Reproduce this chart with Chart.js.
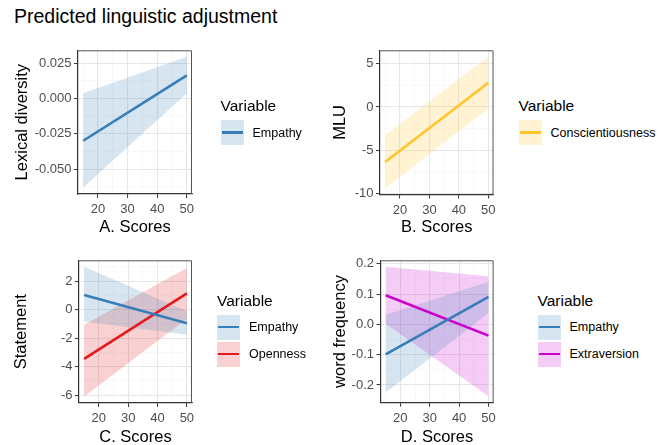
<!DOCTYPE html>
<html>
<head>
<meta charset="utf-8">
<script src="https://cdn.jsdelivr.net/npm/chart.js@4.4.0/dist/chart.umd.min.js"></script>
<style>
  body { margin: 0; width: 670px; height: 445px; overflow: hidden; background: #fff; position: relative;
         font-family: "Liberation Sans", Arial, sans-serif; color: #000; }
  canvas { position: absolute; }
  .title { position: absolute; left: 14px; top: 5px; font-size: 19.5px; line-height: 22px; }
  .legend { position: absolute; }
  .legend .lt { font-size: 15.5px; line-height: 18px; margin-bottom: 5px; }
  .legend .row { display: flex; align-items: center; height: 25px; margin-bottom: 2px; }
  .legend .key { position: relative; width: 23px; height: 25px; }
  .legend .key i { position: absolute; left: 1px; right: 1px; top: 11.25px; height: 2.5px; }
  .legend .lab { font-size: 12.5px; margin-left: 9px; }
</style>
</head>
<body>
<div class="title">Predicted linguistic adjustment</div>
<canvas id="pA" width="200" height="205" style="left:0;top:40px"></canvas>
<canvas id="pB" width="200" height="205" style="left:300px;top:40px"></canvas>
<canvas id="pC" width="200" height="200" style="left:0;top:250px"></canvas>
<canvas id="pD" width="200" height="200" style="left:300px;top:250px"></canvas>
<div class="legend" id="lA" style="left:220.5px;top:97px"></div>
<div class="legend" id="lB" style="left:518.5px;top:97px"></div>
<div class="legend" id="lC" style="left:217px;top:291.5px"></div>
<div class="legend" id="lD" style="left:537.5px;top:291.5px"></div>
<script>
// x values of the fitted lines (scores)
const scores = [15, 50];
const xMajor = [20, 30, 40, 50];
const xMinor = [15, 25, 35, 45];

// A. Lexical diversity
const lexEmpathy = [-0.0299, 0.0165];
const lexEmpathyLo = [-0.063, 0.0037];
const lexEmpathyHi = [0.0037, 0.0296];
const lexMajor = [-0.05, -0.025, 0, 0.025];
const lexMinor = [-0.0625, -0.0375, -0.0125, 0.0125];

// B. MLU
const mluCons = [-6.37, 2.81];
const mluConsLo = [-9.36, -0.19];
const mluConsHi = [-3.26, 5.8];
const mluMajor = [-10, -5, 0, 5];
const mluMinor = [-7.5, -2.5, 2.5];

// C. Statement
const stmtEmpathy = [1.02, -0.95];
const stmtEmpathyLo = [-0.84, -1.77];
const stmtEmpathyHi = [3.0, -0.11];
const stmtOpen = [-3.45, 1.14];
const stmtOpenLo = [-6.09, -0.64];
const stmtOpenHi = [-1.06, 2.91];
const stmtMajor = [-6, -4, -2, 0, 2];
const stmtMinor = [-5, -3, -1, 1, 3];

// D. word frequency
const wfEmpathy = [-0.099, 0.091];
const wfEmpathyLo = [-0.225, 0.037];
const wfEmpathyHi = [0.032, 0.141];
const wfExtra = [0.096, -0.037];
const wfExtraLo = [0.002, -0.237];
const wfExtraHi = [0.19, 0.159];
const wfMajor = [-0.2, -0.1, 0, 0.1, 0.2];
const wfMinor = [-0.25, -0.15, -0.05, 0.05, 0.15];

const colEmpathy = "#377EB8", colOpen = "#E41A1C", colCons = "#FFC52A", colExtra = "#CC00CC";

Chart.defaults.font.family = '"Liberation Sans", Arial, sans-serif';

function rgba(hex, a) {
  const n = parseInt(hex.slice(1), 16);
  return "rgba(" + (n >> 16) + "," + ((n >> 8) & 255) + "," + (n & 255) + "," + a + ")";
}
const pts = arr => scores.map((x, i) => ({ x: x, y: arr[i] }));
const isIn = (list, v) => list.some(m => Math.abs(m - v) < 1e-9);

// top and right panel border
const frame = {
  id: "frame",
  afterDraw(chart) {
    const a = chart.chartArea, c = chart.ctx;
    c.save();
    c.strokeStyle = "#555";
    c.lineWidth = 1;
    c.beginPath();
    c.moveTo(a.left, a.top + 0.5);
    c.lineTo(a.right - 0.5, a.top + 0.5);
    c.lineTo(a.right - 0.5, a.bottom);
    c.stroke();
    c.restore();
  }
};

function axis(major, minor, fmt, title, titlePad, fitFn) {
  const all = major.concat(minor).sort((a, b) => a - b);
  return {
    type: "linear",
    afterBuildTicks: s => { s.ticks = all.map(v => ({ value: v })); },
    afterFit: fitFn,
    grid: {
      color: c => isIn(major, c.tick.value) ? "#e6e6e6" : "#f3f3f3",
      lineWidth: c => isIn(major, c.tick.value) ? 1.1 : 0.6,
      tickColor: c => isIn(major, c.tick.value) ? "#333" : "rgba(0,0,0,0)",
      tickLength: 4,
      tickWidth: 1
    },
    border: { color: "#333", width: 1.2 },
    ticks: {
      autoSkip: false, maxRotation: 0, color: "#4d4d4d", font: { size: 13 },
      callback: v => isIn(major, v) ? fmt(v) : ""
    },
    title: { display: true, text: title, color: "#000", font: { size: 16.5 }, padding: titlePad }
  };
}

function panel(id, series, yMajor, yMinor, fmt, yTitle, xTitle, geo) {
  const ds = [];
  series.forEach(s => {
    ds.push({ data: pts(s.fit), borderColor: s.color, borderWidth: 2.6, pointRadius: 0, fill: false });
  });
  series.forEach(s => {
    const hiIdx = ds.length;
    ds.push({ data: pts(s.hi), borderWidth: 0, pointRadius: 0, fill: false });
    ds.push({ data: pts(s.lo), borderWidth: 0, pointRadius: 0, backgroundColor: rgba(s.color, 0.2), fill: hiIdx });
  });
  const bandVals = series.flatMap(s => s.lo.concat(s.hi));
  const lo = Math.min(...bandVals), hi = Math.max(...bandVals), pad = (hi - lo) * 0.05;
  const xs = axis(xMajor, xMinor, v => String(v), xTitle, { bottom: geo.xTitlePad }, s => { s.height = geo.xH; });
  xs.min = 13.25; xs.max = 51.75;
  xs.ticks.padding = 4;
  const ys = axis(yMajor, yMinor, fmt, yTitle, { top: geo.yTitlePad }, s => { s.width = geo.yW; });
  ys.min = lo - pad; ys.max = hi + pad;
  ys.ticks.padding = 2.5;
  new Chart(document.getElementById(id), {
    type: "line",
    data: { datasets: ds },
    options: {
      responsive: false, animation: false, devicePixelRatio: 1,
      layout: { padding: { top: geo.top, right: geo.right, left: 0, bottom: 0 } },
      plugins: { legend: { display: false }, tooltip: { enabled: false } },
      scales: { x: xs, y: ys }
    },
    plugins: [frame]
  });
}

function legend(id, series) {
  const el = document.getElementById(id);
  let html = '<div class="lt">Variable</div>';
  series.forEach(s => {
    html += '<div class="row"><div class="key" style="background:' + rgba(s.color, 0.2) + '"><i style="background:' +
      s.color + '"></i></div><div class="lab">' + s.name + '</div></div>';
  });
  el.innerHTML = html;
}

const sA = [{ name: "Empathy", color: colEmpathy, fit: lexEmpathy, lo: lexEmpathyLo, hi: lexEmpathyHi }];
const sB = [{ name: "Conscientiousness", color: colCons, fit: mluCons, lo: mluConsLo, hi: mluConsHi }];
const sC = [
  { name: "Empathy", color: colEmpathy, fit: stmtEmpathy, lo: stmtEmpathyLo, hi: stmtEmpathyHi },
  { name: "Openness", color: colOpen, fit: stmtOpen, lo: stmtOpenLo, hi: stmtOpenHi }
];
const sD = [
  { name: "Empathy", color: colEmpathy, fit: wfEmpathy, lo: wfEmpathyLo, hi: wfEmpathyHi },
  { name: "Extraversion", color: colExtra, fit: wfExtra, lo: wfExtraLo, hi: wfExtraHi }
];

panel("pA", sA, lexMajor, lexMinor, v => v.toFixed(3), "Lexical diversity", "A. Scores",
  { top: 5, right: 8, yW: 78, xH: 51, yTitlePad: 13, xTitlePad: 7.4 });
panel("pB", sB, mluMajor, mluMinor, v => String(v), "MLU", "B. Scores",
  { top: 5.5, right: 6.5, yW: 80, xH: 50.5, yTitlePad: 30.4, xTitlePad: 7.4 });
panel("pC", sC, stmtMajor, stmtMinor, v => String(v), "Statement", "C. Scores",
  { top: 5, right: 8, yW: 79, xH: 47, yTitlePad: 12, xTitlePad: 2.7 });
panel("pD", sD, wfMajor, wfMinor, v => v.toFixed(1), "word frequency", "D. Scores",
  { top: 5, right: 6, yW: 80.5, xH: 47.3, yTitlePad: 31, xTitlePad: 2.9 });

legend("lA", sA);
legend("lB", sB);
legend("lC", sC);
legend("lD", sD);
</script>
</body>
</html>
